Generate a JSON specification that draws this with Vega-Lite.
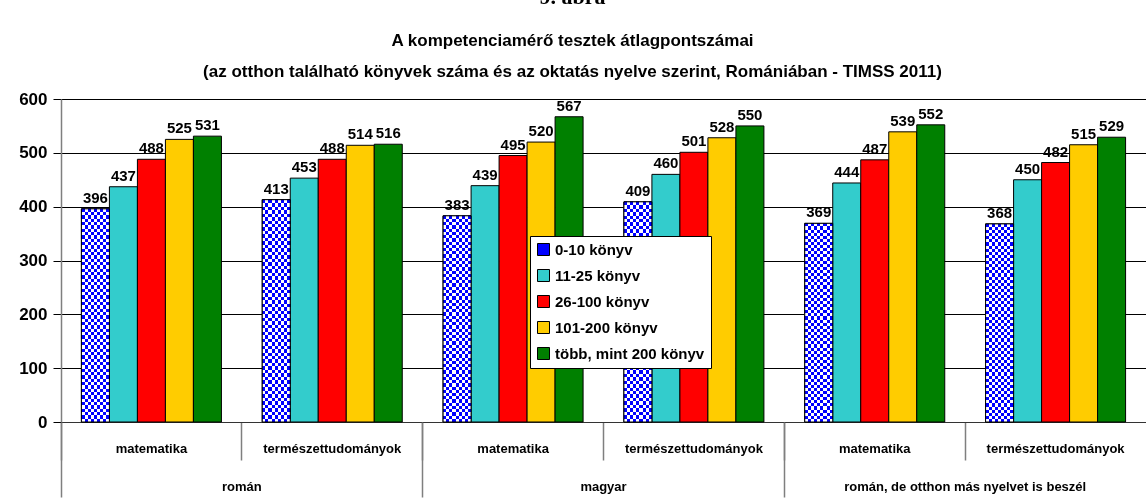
{
  "$schema": "https://vega.github.io/schema/vega-lite/v6.json",
  "autosize": "none",
  "width": 1085,
  "height": 323,
  "padding": {"left": 61, "top": 99, "right": 0, "bottom": 77},
  "background": "white",
  "title": {
    "text": "9. ábra",
    "subtitle": ["A kompetenciamérő tesztek átlagpontszámai", "(az otthon található könyvek száma és az oktatás nyelve szerint, Romániában - TIMSS 2011)"],
    "anchor": "middle",
    "dx": -31,
    "font": "Liberation Serif",
    "fontSize": 22,
    "fontWeight": "bold",
    "color": "black",
    "subtitleFont": "Liberation Sans",
    "subtitleFontSize": 17,
    "subtitleFontWeight": "bold",
    "subtitleColor": "black",
    "subtitleLineHeight": 31,
    "subtitlePadding": 24,
    "offset": 9
  },
  "data": {
    "values": [
      {"cat": "román|matematika", "lang": "román", "series": "0-10 könyv", "value": 396},
      {"cat": "román|matematika", "lang": "román", "series": "11-25 könyv", "value": 437},
      {"cat": "román|matematika", "lang": "román", "series": "26-100 könyv", "value": 488},
      {"cat": "román|matematika", "lang": "román", "series": "101-200 könyv", "value": 525},
      {"cat": "román|matematika", "lang": "román", "series": "több, mint 200 könyv", "value": 531},
      {"cat": "román|természettudományok", "lang": "román", "series": "0-10 könyv", "value": 413},
      {"cat": "román|természettudományok", "lang": "román", "series": "11-25 könyv", "value": 453},
      {"cat": "román|természettudományok", "lang": "román", "series": "26-100 könyv", "value": 488},
      {"cat": "román|természettudományok", "lang": "román", "series": "101-200 könyv", "value": 514},
      {"cat": "román|természettudományok", "lang": "román", "series": "több, mint 200 könyv", "value": 516},
      {"cat": "magyar|matematika", "lang": "magyar", "series": "0-10 könyv", "value": 383},
      {"cat": "magyar|matematika", "lang": "magyar", "series": "11-25 könyv", "value": 439},
      {"cat": "magyar|matematika", "lang": "magyar", "series": "26-100 könyv", "value": 495},
      {"cat": "magyar|matematika", "lang": "magyar", "series": "101-200 könyv", "value": 520},
      {"cat": "magyar|matematika", "lang": "magyar", "series": "több, mint 200 könyv", "value": 567},
      {"cat": "magyar|természettudományok", "lang": "magyar", "series": "0-10 könyv", "value": 409},
      {"cat": "magyar|természettudományok", "lang": "magyar", "series": "11-25 könyv", "value": 460},
      {"cat": "magyar|természettudományok", "lang": "magyar", "series": "26-100 könyv", "value": 501},
      {"cat": "magyar|természettudományok", "lang": "magyar", "series": "101-200 könyv", "value": 528},
      {"cat": "magyar|természettudományok", "lang": "magyar", "series": "több, mint 200 könyv", "value": 550},
      {"cat": "más|matematika", "lang": "román, de otthon más nyelvet is beszél", "series": "0-10 könyv", "value": 369},
      {"cat": "más|matematika", "lang": "román, de otthon más nyelvet is beszél", "series": "11-25 könyv", "value": 444},
      {"cat": "más|matematika", "lang": "román, de otthon más nyelvet is beszél", "series": "26-100 könyv", "value": 487},
      {"cat": "más|matematika", "lang": "román, de otthon más nyelvet is beszél", "series": "101-200 könyv", "value": 539},
      {"cat": "más|matematika", "lang": "román, de otthon más nyelvet is beszél", "series": "több, mint 200 könyv", "value": 552},
      {"cat": "más|természettudományok", "lang": "román, de otthon más nyelvet is beszél", "series": "0-10 könyv", "value": 368},
      {"cat": "más|természettudományok", "lang": "román, de otthon más nyelvet is beszél", "series": "11-25 könyv", "value": 450},
      {"cat": "más|természettudományok", "lang": "román, de otthon más nyelvet is beszél", "series": "26-100 könyv", "value": 482},
      {"cat": "más|természettudományok", "lang": "román, de otthon más nyelvet is beszél", "series": "101-200 könyv", "value": 515},
      {"cat": "más|természettudományok", "lang": "román, de otthon más nyelvet is beszél", "series": "több, mint 200 könyv", "value": 529}
    ]
  },
  "config": {
    "view": {"stroke": null},
    "font": "Liberation Sans"
  },
  "resolve": {"scale": {"x": "independent"}, "axis": {"x": "independent"}},
  "layer": [
    {
      "encoding": {
        "x": {
          "field": "cat", "type": "nominal",
          "scale": {"domain": ["román|matematika", "román|természettudományok", "magyar|matematika", "magyar|természettudományok", "más|matematika", "más|természettudományok"], "paddingInner": 0, "paddingOuter": 0},
          "axis": {
            "orient": "bottom", "title": null, "labelAngle": 0,
            "labelExpr": "slice(datum.value, indexof(datum.value, '|') + 1)",
            "bandPosition": 0, "tickSize": 38, "tickColor": "#7f7f7f", "tickWidth": 1.5,
            "labelPadding": -12, "labelFontSize": 13, "labelFontWeight": "bold", "labelColor": "black",
            "labelBaseline": "middle",
            "domainColor": "#333", "domainWidth": 1, "grid": false
          }
        },
        "xOffset": {
          "field": "series", "type": "nominal",
          "scale": {"domain": ["0-10 könyv", "11-25 könyv", "26-100 könyv", "101-200 könyv", "több, mint 200 könyv"], "paddingInner": 0, "paddingOuter": 0.729}
        },
        "y": {
          "field": "value", "type": "quantitative",
          "scale": {"domain": [0, 600], "nice": false},
          "axis": {
            "title": null, "values": [0, 100, 200, 300, 400, 500, 600],
            "tickSize": 8, "tickColor": "black", "labelPadding": 6,
            "labelFontSize": 17, "labelFontWeight": "bold", "labelColor": "black",
            "grid": true, "gridColor": "black", "gridWidth": 1,
            "domainColor": "#7f7f7f", "domainWidth": 1.5
          }
        }
      },
      "layer": [
        {
          "mark": {"type": "bar", "stroke": "black", "strokeWidth": 1},
          "encoding": {
            "color": {
              "field": "series", "type": "nominal",
              "scale": {"domain": ["0-10 könyv", "11-25 könyv", "26-100 könyv", "101-200 könyv", "több, mint 200 könyv"], "range": ["#0000ff", "#33cccc", "#ff0000", "#ffcc00", "#008000"]},
              "legend": {
                "title": null, "orient": "none", "legendX": 469, "legendY": 137,
                "fillColor": "white", "strokeColor": "black", "padding": 6,
                "symbolType": "square", "symbolSize": 144, "symbolStrokeColor": "black", "symbolStrokeWidth": 1, "symbolOpacity": 1,
                "labelFontSize": 15, "labelFontWeight": "bold", "labelColor": "black", "labelOffset": 4,
                "rowPadding": 9, "labelLimit": 300
              }
            }
          }
        },
        {
          "transform": [{"filter": "datum.series === '0-10 könyv'"}],
          "mark": {
            "type": "bar",
            "fill": {"expr": "{gradient: 'linear', x1: 0, y1: 0, x2: 1, y2: 0, stops: [{offset: 0, color: '#0000ff'}, {offset: 0.1111, color: '#0000ff'}, {offset: 0.1111, color: '#ffffff'}, {offset: 0.2222, color: '#ffffff'}, {offset: 0.2222, color: '#0000ff'}, {offset: 0.3333, color: '#0000ff'}, {offset: 0.3333, color: '#ffffff'}, {offset: 0.4444, color: '#ffffff'}, {offset: 0.4444, color: '#0000ff'}, {offset: 0.5556, color: '#0000ff'}, {offset: 0.5556, color: '#ffffff'}, {offset: 0.6667, color: '#ffffff'}, {offset: 0.6667, color: '#0000ff'}, {offset: 0.7778, color: '#0000ff'}, {offset: 0.7778, color: '#ffffff'}, {offset: 0.8889, color: '#ffffff'}, {offset: 0.8889, color: '#0000ff'}, {offset: 1, color: '#0000ff'}]}"},
            "stroke": null
          }
        },
        {
          "transform": [{"filter": "datum.series === '0-10 könyv'"}],
          "mark": {
            "type": "bar",
            "blend": "difference",
            "fill": {"expr": "{gradient: 'linear', x1: 0, y1: 0, x2: 0, y2: 1, stops: [{offset: 0, color: '#000000'}, {offset: 0.015625, color: '#000000'}, {offset: 0.015625, color: '#ffff00'}, {offset: 0.03125, color: '#ffff00'}, {offset: 0.03125, color: '#000000'}, {offset: 0.046875, color: '#000000'}, {offset: 0.046875, color: '#ffff00'}, {offset: 0.0625, color: '#ffff00'}, {offset: 0.0625, color: '#000000'}, {offset: 0.078125, color: '#000000'}, {offset: 0.078125, color: '#ffff00'}, {offset: 0.09375, color: '#ffff00'}, {offset: 0.09375, color: '#000000'}, {offset: 0.109375, color: '#000000'}, {offset: 0.109375, color: '#ffff00'}, {offset: 0.125, color: '#ffff00'}, {offset: 0.125, color: '#000000'}, {offset: 0.140625, color: '#000000'}, {offset: 0.140625, color: '#ffff00'}, {offset: 0.15625, color: '#ffff00'}, {offset: 0.15625, color: '#000000'}, {offset: 0.171875, color: '#000000'}, {offset: 0.171875, color: '#ffff00'}, {offset: 0.1875, color: '#ffff00'}, {offset: 0.1875, color: '#000000'}, {offset: 0.203125, color: '#000000'}, {offset: 0.203125, color: '#ffff00'}, {offset: 0.21875, color: '#ffff00'}, {offset: 0.21875, color: '#000000'}, {offset: 0.234375, color: '#000000'}, {offset: 0.234375, color: '#ffff00'}, {offset: 0.25, color: '#ffff00'}, {offset: 0.25, color: '#000000'}, {offset: 0.265625, color: '#000000'}, {offset: 0.265625, color: '#ffff00'}, {offset: 0.28125, color: '#ffff00'}, {offset: 0.28125, color: '#000000'}, {offset: 0.296875, color: '#000000'}, {offset: 0.296875, color: '#ffff00'}, {offset: 0.3125, color: '#ffff00'}, {offset: 0.3125, color: '#000000'}, {offset: 0.328125, color: '#000000'}, {offset: 0.328125, color: '#ffff00'}, {offset: 0.34375, color: '#ffff00'}, {offset: 0.34375, color: '#000000'}, {offset: 0.359375, color: '#000000'}, {offset: 0.359375, color: '#ffff00'}, {offset: 0.375, color: '#ffff00'}, {offset: 0.375, color: '#000000'}, {offset: 0.390625, color: '#000000'}, {offset: 0.390625, color: '#ffff00'}, {offset: 0.40625, color: '#ffff00'}, {offset: 0.40625, color: '#000000'}, {offset: 0.421875, color: '#000000'}, {offset: 0.421875, color: '#ffff00'}, {offset: 0.4375, color: '#ffff00'}, {offset: 0.4375, color: '#000000'}, {offset: 0.453125, color: '#000000'}, {offset: 0.453125, color: '#ffff00'}, {offset: 0.46875, color: '#ffff00'}, {offset: 0.46875, color: '#000000'}, {offset: 0.484375, color: '#000000'}, {offset: 0.484375, color: '#ffff00'}, {offset: 0.5, color: '#ffff00'}, {offset: 0.5, color: '#000000'}, {offset: 0.515625, color: '#000000'}, {offset: 0.515625, color: '#ffff00'}, {offset: 0.53125, color: '#ffff00'}, {offset: 0.53125, color: '#000000'}, {offset: 0.546875, color: '#000000'}, {offset: 0.546875, color: '#ffff00'}, {offset: 0.5625, color: '#ffff00'}, {offset: 0.5625, color: '#000000'}, {offset: 0.578125, color: '#000000'}, {offset: 0.578125, color: '#ffff00'}, {offset: 0.59375, color: '#ffff00'}, {offset: 0.59375, color: '#000000'}, {offset: 0.609375, color: '#000000'}, {offset: 0.609375, color: '#ffff00'}, {offset: 0.625, color: '#ffff00'}, {offset: 0.625, color: '#000000'}, {offset: 0.640625, color: '#000000'}, {offset: 0.640625, color: '#ffff00'}, {offset: 0.65625, color: '#ffff00'}, {offset: 0.65625, color: '#000000'}, {offset: 0.671875, color: '#000000'}, {offset: 0.671875, color: '#ffff00'}, {offset: 0.6875, color: '#ffff00'}, {offset: 0.6875, color: '#000000'}, {offset: 0.703125, color: '#000000'}, {offset: 0.703125, color: '#ffff00'}, {offset: 0.71875, color: '#ffff00'}, {offset: 0.71875, color: '#000000'}, {offset: 0.734375, color: '#000000'}, {offset: 0.734375, color: '#ffff00'}, {offset: 0.75, color: '#ffff00'}, {offset: 0.75, color: '#000000'}, {offset: 0.765625, color: '#000000'}, {offset: 0.765625, color: '#ffff00'}, {offset: 0.78125, color: '#ffff00'}, {offset: 0.78125, color: '#000000'}, {offset: 0.796875, color: '#000000'}, {offset: 0.796875, color: '#ffff00'}, {offset: 0.8125, color: '#ffff00'}, {offset: 0.8125, color: '#000000'}, {offset: 0.828125, color: '#000000'}, {offset: 0.828125, color: '#ffff00'}, {offset: 0.84375, color: '#ffff00'}, {offset: 0.84375, color: '#000000'}, {offset: 0.859375, color: '#000000'}, {offset: 0.859375, color: '#ffff00'}, {offset: 0.875, color: '#ffff00'}, {offset: 0.875, color: '#000000'}, {offset: 0.890625, color: '#000000'}, {offset: 0.890625, color: '#ffff00'}, {offset: 0.90625, color: '#ffff00'}, {offset: 0.90625, color: '#000000'}, {offset: 0.921875, color: '#000000'}, {offset: 0.921875, color: '#ffff00'}, {offset: 0.9375, color: '#ffff00'}, {offset: 0.9375, color: '#000000'}, {offset: 0.953125, color: '#000000'}, {offset: 0.953125, color: '#ffff00'}, {offset: 0.96875, color: '#ffff00'}, {offset: 0.96875, color: '#000000'}, {offset: 0.984375, color: '#000000'}, {offset: 0.984375, color: '#ffff00'}, {offset: 1, color: '#ffff00'}]}"},
            "stroke": null
          }
        },
        {
          "transform": [{"filter": "datum.series === '0-10 könyv'"}],
          "mark": {"type": "bar", "fill": "transparent", "stroke": "black", "strokeWidth": 1}
        },
        {
          "mark": {"type": "text", "baseline": "bottom", "dy": -3, "fontSize": 15, "fontWeight": "bold", "color": "black"},
          "encoding": {
            "text": {"field": "value", "type": "quantitative"}
          }
        }
      ]
    },
    {
      "mark": {"type": "tick", "opacity": 0},
      "encoding": {
        "x": {
          "field": "lang", "type": "nominal",
          "scale": {"domain": ["román", "magyar", "román, de otthon más nyelvet is beszél"], "paddingInner": 0, "paddingOuter": 0},
          "axis": {
            "orient": "bottom", "title": null, "labelAngle": 0, "domain": false,
            "bandPosition": 0, "tickSize": 75, "tickColor": "#7f7f7f", "tickWidth": 1.5,
            "labelPadding": -11, "labelFontSize": 13, "labelFontWeight": "bold", "labelColor": "black",
            "labelBaseline": "middle", "labelLimit": 400, "grid": false
          }
        }
      }
    }
  ]
}
